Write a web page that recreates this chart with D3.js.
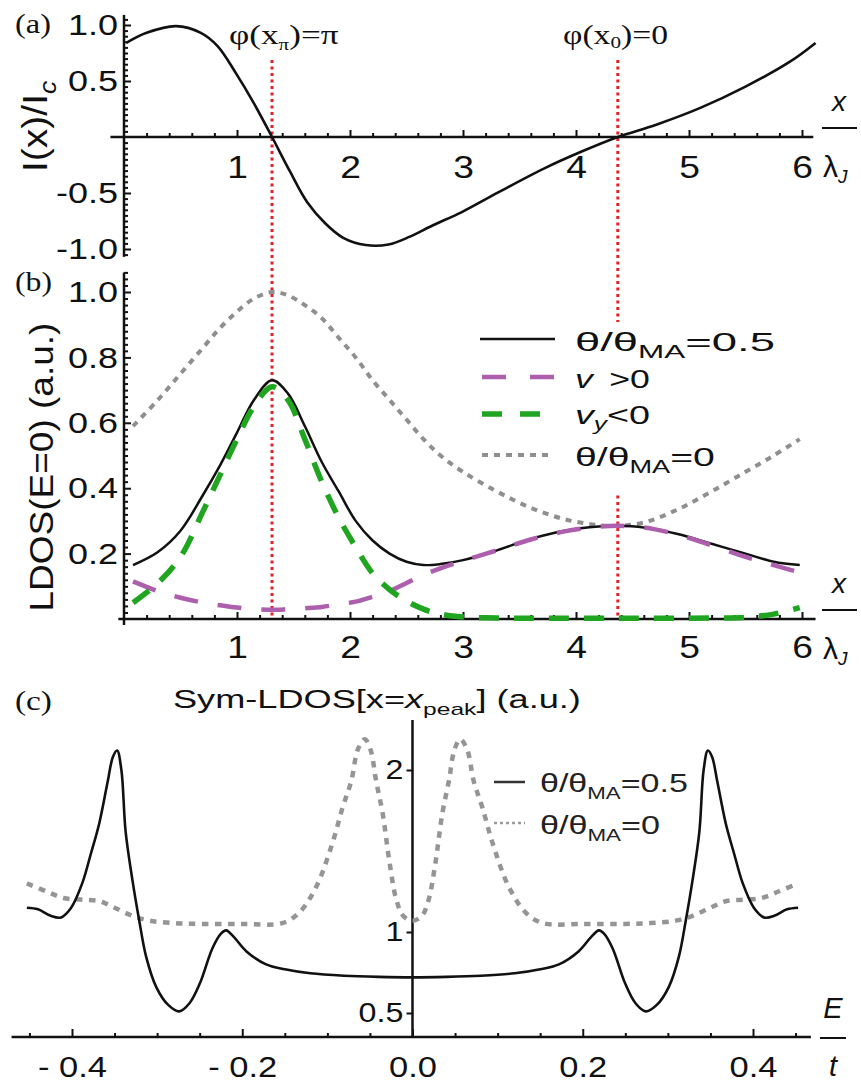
<!DOCTYPE html>
<html><head><meta charset="utf-8">
<script src="https://cdn.jsdelivr.net/npm/d3@7"></script>
<style>body{margin:0;background:#fff}svg{display:block;background:#fff}</style>
</head><body><svg id="chart" width="861" height="1083"></svg>
<script>
// ---------- DATA ----------
// Panel (a): supercurrent density I(x)/Ic vs x/λJ
const xA = [0.02,0.2,0.46,0.68,0.83,0.99,1.15,1.31,1.47,1.62,1.78,1.94,2.14,2.34,2.53,2.73,2.99,3.32,3.72,4.05,4.37,4.71,5.1,5.5,5.89,6.12];
const currentA = [0.84,0.93,0.99,0.93,0.81,0.57,0.30,0,-0.31,-0.58,-0.77,-0.90,-0.965,-0.96,-0.89,-0.79,-0.67,-0.49,-0.28,-0.13,0,0.11,0.26,0.45,0.67,0.84];

// Panel (b): LDOS(E=0) vs x/λJ
const xB = [0.08,0.3,0.5,0.7,0.85,1.0,1.15,1.31,1.45,1.6,1.75,1.9,2.05,2.2,2.35,2.5,2.65,2.8,3.0,3.3,3.6,3.9,4.2,4.37,4.6,4.9,5.2,5.5,5.75,5.98];
const ldosTheta05 = [0.165,0.205,0.27,0.38,0.47,0.57,0.67,0.73,0.69,0.59,0.48,0.39,0.30,0.24,0.20,0.175,0.165,0.168,0.18,0.21,0.245,0.27,0.283,0.285,0.28,0.26,0.23,0.20,0.175,0.165];
const ldosVxPos   = [0.115,0.085,0.065,0.05,0.042,0.035,0.03,0.028,0.03,0.033,0.037,0.045,0.053,0.068,0.085,0.11,0.135,0.155,0.178,0.21,0.243,0.268,0.282,0.285,0.28,0.258,0.225,0.19,0.165,0.142];
const ldosVyNeg   = [0.05,0.11,0.19,0.33,0.44,0.55,0.65,0.71,0.67,0.55,0.42,0.31,0.22,0.14,0.09,0.055,0.03,0.015,0.006,0.003,0.002,0.002,0.002,0.002,0.002,0.002,0.003,0.005,0.015,0.035];
const ldosTheta0  = [0.59,0.67,0.75,0.83,0.89,0.94,0.98,1.0,0.99,0.96,0.92,0.86,0.80,0.73,0.67,0.61,0.55,0.50,0.45,0.39,0.34,0.305,0.287,0.285,0.295,0.335,0.39,0.45,0.50,0.55];

// Panel (c): symmetrized LDOS at x = x_peak vs E/t
const eC05 = [-0.453,-0.44,-0.425,-0.413,-0.401,-0.388,-0.378,-0.368,-0.358,-0.352,-0.347,-0.342,-0.337,-0.329,-0.321,-0.313,-0.301,-0.287,-0.274,-0.262,-0.25,-0.235,-0.225,-0.219,-0.21,-0.195,-0.172,-0.15,-0.12,-0.08,-0.04,0,
  0.04,0.08,0.12,0.15,0.172,0.195,0.21,0.219,0.225,0.235,0.25,0.262,0.274,0.287,0.301,0.313,0.321,0.329,0.337,0.342,0.347,0.352,0.358,0.368,0.378,0.388,0.401,0.413,0.425,0.44,0.453];
const symTheta05 = [1.15,1.14,1.10,1.09,1.15,1.30,1.48,1.67,1.93,2.08,2.12,2.0,1.62,1.32,1.07,0.85,0.66,0.55,0.51,0.56,0.68,0.90,0.99,1.01,0.97,0.88,0.80,0.77,0.745,0.73,0.723,0.72,
  0.723,0.73,0.745,0.77,0.80,0.88,0.97,1.01,0.99,0.90,0.68,0.56,0.51,0.55,0.66,0.85,1.07,1.32,1.62,2.0,2.12,2.08,1.93,1.67,1.48,1.30,1.15,1.09,1.10,1.14,1.15];
const eC0 = [-0.453,-0.43,-0.41,-0.39,-0.368,-0.35,-0.329,-0.309,-0.28,-0.25,-0.2,-0.153,-0.133,-0.113,-0.094,-0.082,-0.072,-0.064,-0.056,-0.049,-0.043,-0.035,-0.027,-0.019,-0.011,0,
  0.011,0.019,0.027,0.035,0.043,0.049,0.056,0.064,0.072,0.082,0.094,0.113,0.133,0.153,0.2,0.25,0.28,0.309,0.329,0.35,0.368,0.39,0.41,0.43,0.453];
const symTheta0 = [1.30,1.25,1.21,1.20,1.19,1.15,1.10,1.07,1.055,1.05,1.05,1.055,1.12,1.28,1.55,1.77,1.93,2.13,2.19,2.12,1.94,1.73,1.43,1.20,1.10,1.07,
  1.10,1.20,1.43,1.73,1.94,2.12,2.19,2.13,1.93,1.77,1.55,1.28,1.12,1.055,1.05,1.05,1.055,1.07,1.10,1.15,1.19,1.20,1.21,1.25,1.30];

// markers and ticks
const markerX = [1.31, 4.37];
const xTicksAB = [1,2,3,4,5,6];
const xTickLabelsAB = ["1","2","3","4","5","6"];
const yTicksA = [-1,-0.5,0.5,1];
const yTickLabelsA = ["-1.0","-0.5","0.5","1.0"];
const yTicksB = [0.2,0.4,0.6,0.8,1.0];
const yTickLabelsB = ["0.2","0.4","0.6","0.8","1.0"];
const xTicksC = [-0.4,-0.2,0,0.2,0.4];
const xTickLabelsC = ["- 0.4","- 0.2","0.0","0.2","0.4"];
const yTicksC = [0.5,1,2];
const yTickLabelsC = ["0.5","1","2"];

// ---------- DRAWING ----------
const svg = d3.select("#chart");
const SANS = "'Liberation Sans', Arial, sans-serif";
const SERIF = "'Liberation Serif', 'Times New Roman', serif";
const INK = "#111";
const CURVE = d3.curveCatmullRom.alpha(0.5);

const x = d3.scaleLinear().domain([0,6]).range([124,802]);
const yA = d3.scaleLinear().domain([-1,1]).range([249,25]);
const yB = d3.scaleLinear().domain([0,1]).range([619,292]);
const xC = d3.scaleLinear().domain([-0.4,0.4]).range([72,753]);
const yC = d3.scaleLinear().domain([0.5,2]).range([1013,770]);

function fit(t, w){
  const bb = t.node().getBBox(); if(!bb.width) return;
  const s = w/bb.width;
  t.attr("transform", `translate(${bb.x*(1-s)},0) scale(${s},1)`);
}
function styleAxis(g, fs, sx){
  g.select(".domain").remove();
  g.selectAll("line").attr("stroke", INK).attr("stroke-width", 2);
  g.selectAll("text").attr("font-family", SANS).attr("font-size", fs).attr("fill", INK)
    .attr("transform", `scale(${sx},1)`);
}
function minorVals(lo, hi, step, majorEvery){
  const out = [];
  for(let i=Math.ceil(lo/step-1e-9); i<=Math.floor(hi/step+1e-9); i++){
    if(i % majorEvery !== 0) out.push(+(i*step).toFixed(4));
  }
  return out;
}
function hline(g, x1, x2, y, w){ g.append("line").attr("x1",x1).attr("x2",x2).attr("y1",y).attr("y2",y).attr("stroke",INK).attr("stroke-width",w); }
function vline(g, xx, y1, y2, w){ g.append("line").attr("x1",xx).attr("x2",xx).attr("y1",y1).attr("y2",y2).attr("stroke",INK).attr("stroke-width",w); }

function subText(g, parts, attrs){
  const t = g.append("text");
  Object.entries(attrs).forEach(([k,v])=>t.attr(k,v));
  let shift = 0;
  parts.forEach(p=>{
    const ts = t.append("tspan").text(p.t);
    const want = p.sub ? p.sub : 0;
    if(want !== shift){ ts.attr("dy", want-shift); shift = want; }
    if(p.fs) ts.attr("font-size", p.fs);
    if(p.it) ts.attr("font-style","italic");
    if(p.dx) ts.attr("dx", p.dx);
  });
  return t;
}
function xOverLambda(g, axisY){
  const cx = 839;
  g.append("text").attr("x",cx).attr("y",axisY-26).attr("text-anchor","middle")
    .attr("font-family",SANS).attr("font-style","italic").attr("font-size",28).attr("fill",INK).text("x");
  hline(g, 822, 857, axisY-9, 2);
  subText(g, [{t:"λ"},{t:"J",it:true,sub:6,fs:19}], {x:823,y:axisY+40,"font-family":SANS,"font-size":30,fill:INK});
}

// red dotted markers (bottom layer)
const redG = svg.append("g");
const axisYB = yB(0);
markerX.forEach(m=>{
  redG.append("line").attr("x1",x(m)).attr("x2",x(m)).attr("y1",60).attr("y2",axisYB)
    .attr("stroke","#e3202a").attr("stroke-width",3).attr("stroke-dasharray","3,3.5");
});

// ===== Panel (a) =====
const gA = svg.append("g");
const axisYA = yA(0);
vline(gA, x(0), yA(1.09), yA(-1.07), 2.5);
hline(gA, x(-0.12), x(6.1), axisYA, 2.5);
gA.append("g").attr("transform",`translate(${x(0)},0)`)
  .call(d3.axisLeft(yA).tickValues(yTicksA).tickFormat((d,i)=>yTickLabelsA[i]).tickSizeInner(-7).tickSizeOuter(0).tickPadding(5))
  .call(g=>styleAxis(g,30,1.2));
gA.append("g").attr("transform",`translate(${x(0)},0)`)
  .call(d3.axisLeft(yA).tickValues(minorVals(-1.05,1.07,0.05,10)).tickFormat("").tickSizeInner(-4).tickSizeOuter(0))
  .call(g=>styleAxis(g,30,1));
gA.append("g").attr("transform",`translate(0,${axisYA})`)
  .call(d3.axisBottom(x).tickValues(xTicksAB).tickFormat((d,i)=>xTickLabelsAB[i]).tickSizeInner(-7).tickSizeOuter(0).tickPadding(19))
  .call(g=>styleAxis(g,31,1.2));
gA.append("g").attr("transform",`translate(0,${axisYA})`)
  .call(d3.axisBottom(x).tickValues(minorVals(0.2,6.0,0.2,5)).tickFormat("").tickSizeInner(-4).tickSizeOuter(0))
  .call(g=>styleAxis(g,30,1));
xOverLambda(gA, axisYA);
gA.append("path").attr("d", d3.line().x((d,i)=>x(xA[i])).y(d=>yA(d)).curve(CURVE)(currentA))
  .attr("fill","none").attr("stroke",INK).attr("stroke-width",2.6);

// ===== Panel (b) =====
const gB = svg.append("g");
vline(gB, x(0), yB(1.06), axisYB+6, 2.5);
hline(gB, x(-0.05), x(6.12), axisYB, 2.5);
gB.append("g").attr("transform",`translate(${x(0)},0)`)
  .call(d3.axisLeft(yB).tickValues(yTicksB).tickFormat((d,i)=>yTickLabelsB[i]).tickSizeInner(-7).tickSizeOuter(0).tickPadding(5))
  .call(g=>styleAxis(g,30,1.2));
gB.append("g").attr("transform",`translate(${x(0)},0)`)
  .call(d3.axisLeft(yB).tickValues(minorVals(0.02,1.06,0.02,10)).tickFormat("").tickSizeInner(-4).tickSizeOuter(0))
  .call(g=>styleAxis(g,30,1));
gB.append("g").attr("transform",`translate(0,${axisYB})`)
  .call(d3.axisBottom(x).tickValues(xTicksAB).tickFormat((d,i)=>xTickLabelsAB[i]).tickSizeInner(-7).tickSizeOuter(0).tickPadding(17))
  .call(g=>styleAxis(g,31,1.2));
gB.append("g").attr("transform",`translate(0,${axisYB})`)
  .call(d3.axisBottom(x).tickValues(minorVals(0.2,6.0,0.2,5)).tickFormat("").tickSizeInner(-4).tickSizeOuter(0))
  .call(g=>styleAxis(g,30,1));
xOverLambda(gB, axisYB);

// legend background (hides red marker behind legend)
gB.append("rect").attr("x",470).attr("y",322).attr("width",320).attr("height",170).attr("fill","#fff");

const lineB = (vals)=>d3.line().x((d,i)=>x(xB[i])).y(d=>yB(d)).curve(CURVE)(vals);
gB.append("path").attr("d",lineB(ldosTheta0)).attr("fill","none").attr("stroke","#8f8f8f").attr("stroke-width",4).attr("stroke-dasharray","6,6");
gB.append("path").attr("d",lineB(ldosTheta05)).attr("fill","none").attr("stroke",INK).attr("stroke-width",2.5);
gB.append("path").attr("d",lineB(ldosVxPos)).attr("fill","none").attr("stroke","#ad5fad").attr("stroke-width",4.5).attr("stroke-dasharray","24,20");
gB.append("path").attr("d",lineB(ldosVyNeg)).attr("fill","none").attr("stroke","#1fa51f").attr("stroke-width",5.5).attr("stroke-dasharray","20,15");

// legend (b)
const legB = gB.append("g");
legB.append("line").attr("x1",480).attr("x2",555).attr("y1",339).attr("y2",339).attr("stroke",INK).attr("stroke-width",2.5);
legB.append("line").attr("x1",482).attr("x2",555).attr("y1",377).attr("y2",377).attr("stroke","#ad5fad").attr("stroke-width",4.5).attr("stroke-dasharray","24,24");
legB.append("line").attr("x1",482).attr("x2",542).attr("y1",414).attr("y2",414).attr("stroke","#1fa51f").attr("stroke-width",5.5).attr("stroke-dasharray","20,18");
legB.append("line").attr("x1",482).attr("x2",553).attr("y1",455).attr("y2",455).attr("stroke","#8f8f8f").attr("stroke-width",4).attr("stroke-dasharray","6,6");
const lbAttrs = (yy)=>({x:575, y:yy, "font-family":SANS, "font-size":26, fill:INK});
fit(subText(legB,[{t:"θ/θ"},{t:"MA",sub:7,fs:18},{t:"=0.5",sub:0}], lbAttrs(351)), 200);
fit(subText(legB,[{t:"v",it:true},{t:">0",dx:12}], lbAttrs(388)), 75);
fit(subText(legB,[{t:"v",it:true},{t:"y",it:true,sub:6,fs:18},{t:"<0",sub:0}], lbAttrs(424)), 75);
fit(subText(legB,[{t:"θ/θ"},{t:"MA",sub:7,fs:18},{t:"=0",sub:0}], lbAttrs(466)), 140);

// ===== Panel (c) =====
const gC = svg.append("g");
const axisYC = 1037;
hline(gC, xC(-0.471), xC(0.468), axisYC, 2.5);
vline(gC, xC(0), 720, axisYC, 2.5);
gC.append("g").attr("transform",`translate(0,${axisYC})`)
  .call(d3.axisBottom(xC).tickValues(xTicksC).tickFormat((d,i)=>xTickLabelsC[i]).tickSizeInner(-8).tickSizeOuter(0).tickPadding(19))
  .call(g=>styleAxis(g,30,1.15));
gC.append("g").attr("transform",`translate(0,${axisYC})`)
  .call(d3.axisBottom(xC).tickValues(minorVals(-0.45,0.45,0.05,4)).tickFormat("").tickSizeInner(-4).tickSizeOuter(0))
  .call(g=>styleAxis(g,30,1));
gC.append("g").attr("transform",`translate(${xC(0)},0)`)
  .call(d3.axisLeft(yC).tickValues(yTicksC).tickFormat((d,i)=>yTickLabelsC[i]).tickSizeInner(6).tickSizeOuter(0).tickPadding(2))
  .call(g=>styleAxis(g,28,1.15));

gC.append("path").attr("d", d3.line().x((d,i)=>xC(eC0[i])).y(d=>yC(d)).curve(CURVE)(symTheta0))
  .attr("fill","none").attr("stroke","#959595").attr("stroke-width",4.5).attr("stroke-dasharray","6.5,6.5");
gC.append("path").attr("d", d3.line().x((d,i)=>xC(eC05[i])).y(d=>yC(d)).curve(CURVE)(symTheta05))
  .attr("fill","none").attr("stroke",INK).attr("stroke-width",2.6);

// E/t label
gC.append("text").attr("x",833).attr("y",axisYC-19).attr("text-anchor","middle").attr("font-family",SANS)
  .attr("font-style","italic").attr("font-size",29).attr("fill",INK).text("E");
hline(gC, 820, 846, axisYC+1, 2);
gC.append("text").attr("x",833).attr("y",axisYC+39).attr("text-anchor","middle").attr("font-family",SANS)
  .attr("font-style","italic").attr("font-size",29).attr("fill",INK).text("t");

// legend (c)
const legC = gC.append("g");
legC.append("line").attr("x1",494).attr("x2",525).attr("y1",782).attr("y2",782).attr("stroke","#333").attr("stroke-width",2.5);
legC.append("line").attr("x1",494).attr("x2",525).attr("y1",823).attr("y2",823).attr("stroke","#9a9a9a").attr("stroke-width",2.5).attr("stroke-dasharray","3,3");
const lcAttrs = (yy)=>({x:540, y:yy, "font-family":SANS, "font-size":26, fill:"#222"});
fit(subText(legC,[{t:"θ/θ"},{t:"MA",sub:7,fs:17},{t:"=0.5",sub:0}], lcAttrs(792)), 148);
fit(subText(legC,[{t:"θ/θ"},{t:"MA",sub:7,fs:17},{t:"=0",sub:0}], lcAttrs(834)), 120);

// ===== labels =====
fit(svg.append("text").attr("x",15).attr("y",33).attr("font-family",SERIF).attr("font-size",28).attr("fill",INK).text("(a)"), 36);
fit(svg.append("text").attr("x",15).attr("y",291).attr("font-family",SERIF).attr("font-size",28).attr("fill",INK).text("(b)"), 37);
fit(svg.append("text").attr("x",15).attr("y",710).attr("font-family",SERIF).attr("font-size",28).attr("fill",INK).text("(c)"), 37);

fit(subText(svg,[{t:"φ(x"},{t:"π",sub:6,fs:16},{t:")=π",sub:0}], {x:229,y:44,"font-family":SERIF,"font-size":27,fill:INK}), 110);
fit(subText(svg,[{t:"φ(x"},{t:"0",sub:4,fs:17},{t:")=0",sub:0}], {x:563,y:44,"font-family":SERIF,"font-size":27,fill:INK}), 105);

fit(subText(svg,[{t:"Sym-LDOS[x="},{t:"x",it:true},{t:"peak",sub:7,fs:17},{t:"] (a.u.)",sub:0}], {x:173,y:708,"font-family":SANS,"font-size":25,fill:INK}), 408);

// rotated y labels: centred explicitly on their measured box
function rotLabel(cx, cy, parts, fs, len, sy){
  const g = svg.append("g").attr("transform",`translate(${cx},${cy}) rotate(-90)`);
  const t = subText(g, parts, {x:0,y:0,"font-family":SANS,"font-size":fs,fill:INK});
  const bb = t.node().getBBox();
  const s = len/bb.width;
  t.attr("transform",`scale(${s},${sy}) translate(${-(bb.x+bb.width/2)},0)`);
}
rotLabel(47, 126, [{t:"I(x)/I"},{t:"c",it:true,sub:7,fs:19}], 28, 92, 1.25);
rotLabel(53, 467, [{t:"LDOS(E=0) (a.u.)"}], 27, 289, 1.25);
</script></body></html>
